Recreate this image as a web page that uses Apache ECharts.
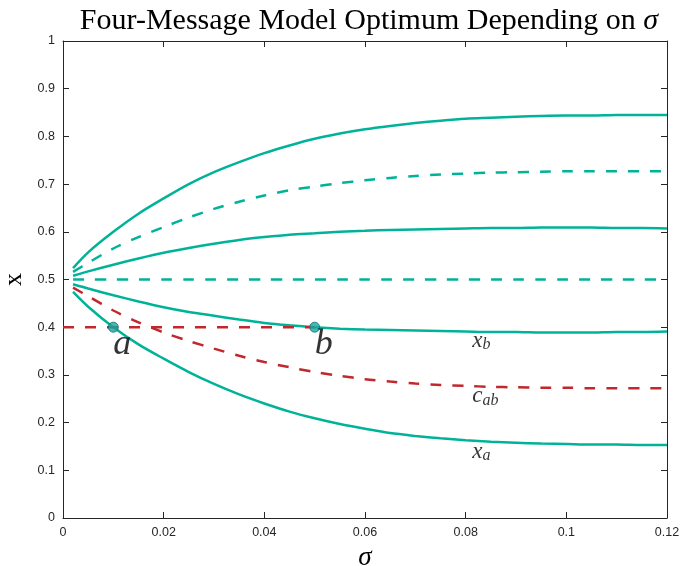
<!DOCTYPE html>
<html>
<head>
<meta charset="utf-8">
<script src="https://cdn.jsdelivr.net/npm/echarts@6/dist/echarts.min.js"></script>
<style>
  html, body { margin: 0; padding: 0; background: #ffffff; }
  #chart { width: 683px; height: 566px; }
</style>
</head>
<body>
<div id="chart"></div>
<script>
// Noise level sigma at which the optimum was evaluated
const sigma = [0.002, 0.005, 0.01, 0.015, 0.02, 0.025, 0.03, 0.035, 0.04, 0.045, 0.05, 0.055, 0.06,
               0.065, 0.07, 0.075, 0.08, 0.085, 0.09, 0.095, 0.1, 0.105, 0.11, 0.115, 0.12];

// Optimal actions (solid) and cutoffs (dashed) for each sigma
const xD  = [0.524, 0.557, 0.600, 0.638, 0.670, 0.700, 0.725, 0.746, 0.765, 0.781, 0.795, 0.806, 0.815,
             0.822, 0.828, 0.833, 0.837, 0.839, 0.841, 0.843, 0.844, 0.844, 0.845, 0.845, 0.845];
const cCD = [0.516, 0.535, 0.565, 0.589, 0.610, 0.630, 0.648, 0.663, 0.676, 0.687, 0.695, 0.702, 0.708,
             0.713, 0.717, 0.720, 0.722, 0.724, 0.725, 0.726, 0.727, 0.727, 0.727, 0.727, 0.727];
const xC  = [0.508, 0.517, 0.531, 0.544, 0.556, 0.566, 0.575, 0.583, 0.589, 0.594, 0.597, 0.600, 0.602,
             0.604, 0.605, 0.606, 0.607, 0.608, 0.608, 0.609, 0.609, 0.609, 0.608, 0.608, 0.607];
const cBC = [0.5, 0.5, 0.5, 0.5, 0.5, 0.5, 0.5, 0.5, 0.5, 0.5, 0.5, 0.5, 0.5,
             0.5, 0.5, 0.5, 0.5, 0.5, 0.5, 0.5, 0.5, 0.5, 0.5, 0.5, 0.5];
const xB  = [0.490, 0.481, 0.467, 0.454, 0.442, 0.432, 0.424, 0.416, 0.409, 0.404, 0.400, 0.397, 0.395,
             0.394, 0.393, 0.392, 0.391, 0.390, 0.390, 0.389, 0.389, 0.389, 0.390, 0.390, 0.391];
const cAB = [0.483, 0.465, 0.435, 0.410, 0.389, 0.371, 0.355, 0.340, 0.327, 0.316, 0.306, 0.298, 0.291,
             0.286, 0.282, 0.279, 0.277, 0.275, 0.274, 0.273, 0.273, 0.272, 0.272, 0.272, 0.272];
const xA  = [0.474, 0.443, 0.400, 0.364, 0.334, 0.306, 0.281, 0.259, 0.240, 0.223, 0.209, 0.197, 0.187,
             0.178, 0.172, 0.167, 0.163, 0.160, 0.158, 0.156, 0.155, 0.154, 0.154, 0.153, 0.153];

// Reference level 0.4 and the sigmas where x_a and x_b reach it
const refLevel = 0.4;
const refSigma = [0, 0.05];
const pointA = [0.01, 0.4];
const pointB = [0.05, 0.4];

// Curve name tags
const tagXB  = { sigma: 0.0813, value: 0.371, main: 'x', sub: 'b' };
const tagCAB = { sigma: 0.0813, value: 0.254, main: 'c', sub: 'ab' };
const tagXA  = { sigma: 0.0813, value: 0.138, main: 'x', sub: 'a' };
const xTicks = { min: 0, max: 0.12, step: 0.02 };
const yTicks = { min: 0, max: 1, step: 0.1 };

const TEAL = '#00B398';
const RED = '#C1272D';
const SERIF = '"Liberation Serif", "DejaVu Serif", serif';
const SANS = '"Liberation Sans", Arial, Helvetica, sans-serif';
const AXIS = '#262626';

const pair = (ys) => sigma.map((s, i) => [s, ys[i]]);

function curve(name, ys, color, dashed) {
  return {
    name: name,
    type: 'line',
    data: pair(ys),
    smooth: 0.3,
    symbol: 'none',
    silent: true,
    lineStyle: { color: color, width: 2.5, type: dashed ? [11, 11] : 'solid' },
    z: 3
  };
}

const boxAxis = (pos, ticks) => ({
  type: 'value',
  position: pos,
  min: ticks.min, max: ticks.max, interval: ticks.step,
  axisLine: { show: true, onZero: false, lineStyle: { color: AXIS, width: 1 } },
  axisTick: { show: true, inside: true, length: 6, lineStyle: { color: AXIS } },
  axisLabel: { show: false },
  splitLine: { show: false }
});

const chart = echarts.init(document.getElementById('chart'));
chart.setOption({
  animation: false,
  backgroundColor: '#ffffff',
  title: {
    text: '{t|Four-Message Model Optimum Depending on }{s|σ}',
    left: 364,
    top: 1,
    textAlign: 'center',
    textStyle: {
      fontWeight: 'normal',
      rich: {
        t: { fontFamily: SERIF, fontSize: 30, fontWeight: 'normal', color: '#000' },
        s: { fontFamily: SERIF, fontSize: 30, fontWeight: 'normal', fontStyle: 'italic', color: '#000' }
      }
    }
  },
  grid: { left: 63, right: 16, top: 41, bottom: 48, containLabel: false, outerBoundsMode: 'none' },
  xAxis: [
    {
      type: 'value',
      position: 'bottom',
      min: xTicks.min, max: xTicks.max, interval: xTicks.step,
      name: 'σ',
      nameLocation: 'middle',
      nameGap: 26,
      nameTextStyle: { fontFamily: SERIF, fontStyle: 'italic', fontSize: 27, color: '#000' },
      axisLine: { show: true, onZero: false, lineStyle: { color: AXIS, width: 1 } },
      axisTick: { show: true, inside: true, length: 6, lineStyle: { color: AXIS } },
      axisLabel: { color: AXIS, fontFamily: SANS, fontSize: 12.5, margin: 8 },
      splitLine: { show: false }
    },
    boxAxis('top', xTicks)
  ],
  yAxis: [
    {
      type: 'value',
      position: 'left',
      min: yTicks.min, max: yTicks.max, interval: yTicks.step,
      name: 'x',
      nameLocation: 'middle',
      nameRotate: 90,
      nameGap: 34,
      nameTextStyle: { fontFamily: SERIF, fontSize: 26, color: '#000' },
      axisLine: { show: true, onZero: false, lineStyle: { color: AXIS, width: 1 } },
      axisTick: { show: true, inside: true, length: 6, lineStyle: { color: AXIS } },
      axisLabel: { color: AXIS, fontFamily: SANS, fontSize: 12.5, margin: 8 },
      splitLine: { show: false }
    },
    boxAxis('right', yTicks)
  ],
  series: [
    curve('x_d', xD, TEAL, false),
    curve('c_cd', cCD, TEAL, true),
    curve('x_c', xC, TEAL, false),
    curve('c_bc', cBC, TEAL, true),
    curve('x_b', xB, TEAL, false),
    curve('c_ab', cAB, RED, true),
    curve('x_a', xA, TEAL, false),
    {
      name: 'reference',
      type: 'line',
      data: refSigma.map((s) => [s, refLevel]),
      symbol: 'none',
      silent: true,
      lineStyle: { color: RED, width: 2.5, type: [11, 11] },
      z: 3
    },
    {
      name: 'points',
      type: 'scatter',
      data: [
        { value: pointA, label: { formatter: 'a' } },
        { value: pointB, label: { formatter: 'b' } }
      ],
      symbol: 'circle',
      symbolSize: 10,
      itemStyle: { color: '#18A6A0', borderColor: '#0D6F74', borderWidth: 1 },
      label: {
        show: true,
        position: 'bottom',
        distance: 0,
        offset: [9, -6],
        fontFamily: SERIF,
        fontStyle: 'italic',
        fontSize: 36,
        color: '#000'
      },
      silent: true,
      z: 5
    },
    {
      name: 'tags',
      type: 'scatter',
      symbolSize: 0,
      silent: true,
      data: [tagXB, tagCAB, tagXA].map((t) => ({
        value: [t.sigma, t.value],
        label: { formatter: '{m|' + t.main + '}{s|' + t.sub + '}' }
      })),
      label: {
        show: true,
        position: 'inside',
        align: 'left',
        verticalAlign: 'middle',
        rich: {
          m: { fontFamily: SERIF, fontStyle: 'italic', fontSize: 23, color: '#000', lineHeight: 24, verticalAlign: 'top' },
          s: { fontFamily: SERIF, fontStyle: 'italic', fontSize: 16, color: '#000', lineHeight: 16, verticalAlign: 'bottom', padding: [10, 0, 0, 0] }
        }
      },
      z: 4
    }
  ]
});
</script>
</body>
</html>
